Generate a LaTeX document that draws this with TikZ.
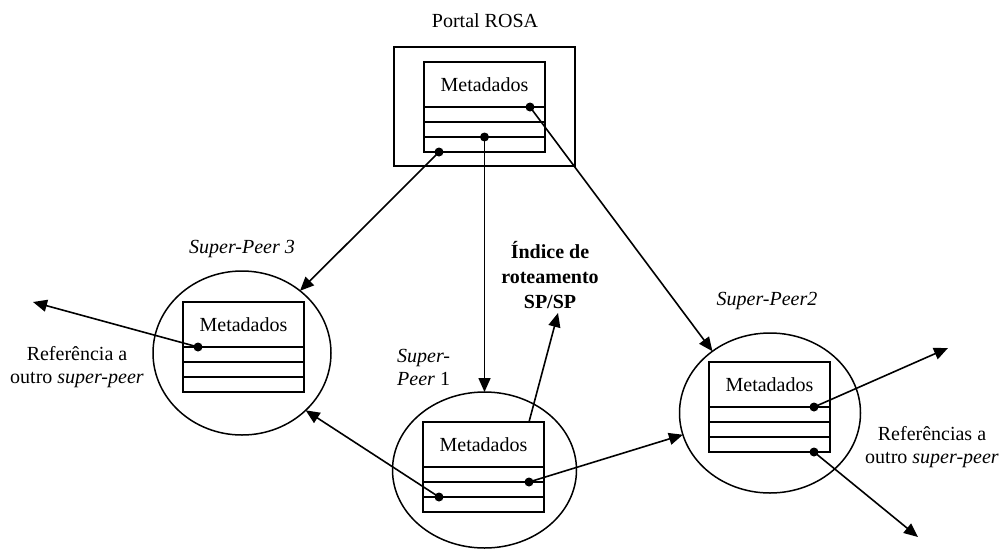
\documentclass[tikz,border=0pt]{standalone}
\usepackage{fontspec}
\setmainfont{Liberation Serif}
\usetikzlibrary{shapes.geometric,arrows.meta}
\begin{document}
\begin{tikzpicture}[x=1pt,y=-1pt,
  every node/.style={font=\fontsize{20}{23}\selectfont},
  arrowline/.style={line width=1.6pt,-{Triangle[length=14pt,width=12pt]}},
  peer/.style={ellipse,draw,line width=1.5pt,inner sep=0pt,outer sep=0pt},
  frame/.style={draw,line width=1.6pt,inner sep=0pt,outer sep=0pt},
  hdr/.style={draw,line width=1.6pt,minimum width=121pt,minimum height=45pt,inner sep=0pt,outer sep=0pt,anchor=north west},
  tabrow/.style={draw,line width=1.6pt,minimum width=121pt,minimum height=15pt,inner sep=0pt,outer sep=0pt,anchor=north},
  dot/.style={circle,fill,inner sep=0pt,minimum size=9pt},
  lbl/.style={inner sep=0pt}]
\useasboundingbox (0,0) rectangle (1005,550);

% Portal ROSA
\node[frame,minimum width=181pt,minimum height=119pt] (portal) at (484.5,106.5) {};
\node[lbl,anchor=base] (portaltxt) at (485,27) {Portal ROSA};
\node[hdr] (ph) at (424,62) {Metadados};
\node[tabrow] (pr1) at (ph.south) {};
\node[tabrow] (pr2) at (pr1.south) {};
\node[tabrow] (pr3) at (pr2.south) {};
\node[dot] (pd1) at ([xshift=-15pt]pr1.north east) {};
\node[dot] (pd2) at (pr3.north) {};
\node[dot] (pd3) at ([xshift=15pt]pr3.south west) {};

% Super-Peer 3
\node[peer,minimum width=178pt,minimum height=164pt] (sp3) at (242,353) {};
\node[lbl,anchor=base] (sp3txt) at (242,253) {\textit{Super-Peer 3}};
\node[hdr] (s3h) at (183,302) {Metadados};
\node[tabrow] (s3r1) at (s3h.south) {};
\node[tabrow] (s3r2) at (s3r1.south) {};
\node[tabrow] (s3r3) at (s3r2.south) {};
\node[dot] (s3d) at ([xshift=15pt]s3r1.north west) {};
\node[lbl,align=center] (ref3txt) at (77,367) {Referência a\\outro \textit{super-peer}};
\coordinate (ref3) at (33,302);

% Super-Peer 1
\node[peer,minimum width=184pt,minimum height=156pt] (sp1) at (484.5,470) {};
\node[lbl,align=left,anchor=west] (sp1txt) at (397,367) {\textit{Super-}\\\textit{Peer} 1};
\node[hdr] (s1h) at (423,422) {Metadados};
\node[tabrow] (s1r1) at (s1h.south) {};
\node[tabrow] (s1r2) at (s1r1.south) {};
\node[tabrow] (s1r3) at (s1r2.south) {};
\node[dot] (s1d1) at ([xshift=-15pt]s1r2.north east) {};
\node[dot] (s1d2) at ([xshift=16pt]s1r3.north west) {};
\coordinate (s1top) at ([xshift=-15pt]s1h.north east);
\node[lbl,align=center,font=\fontsize{20}{25}\selectfont\bfseries] (idxtxt) at (550,275) {Índice de\\roteamento\\SP/SP};
\coordinate (idxtip) at (558,313);

% Super-Peer 2
\node[peer,minimum width=181pt,minimum height=160pt] (sp2) at (770,413) {};
\node[lbl,anchor=base] (sp2txt) at (767,305) {\textit{Super-Peer2}};
\node[hdr] (s2h) at (709,362) {Metadados};
\node[tabrow] (s2r1) at (s2h.south) {};
\node[tabrow] (s2r2) at (s2r1.south) {};
\node[tabrow] (s2r3) at (s2r2.south) {};
\node[dot] (s2d1) at ([xshift=-16pt]s2r1.north east) {};
\node[dot] (s2d2) at ([xshift=-16pt]s2r3.south east) {};
\node[lbl,align=center] (ref2txt) at (932,447) {Referências a\\outro \textit{super-peer}};
\coordinate (ref2a) at (948,348);
\coordinate (ref2b) at (918,537);

% connectors
\draw[arrowline] (pd3.center) -- (sp3.47);
\draw[arrowline] (pd2.center) -- (sp1.90);
\draw[arrowline] (pd1.center) -- (sp2.133);
\draw[arrowline] (s1d2.center) -- (sp3.-42);
\draw[arrowline] (s1d1.center) -- (sp2.194);
\draw[arrowline] (s1top) -- (idxtip);
\draw[arrowline] (s3d.center) -- (ref3);
\draw[arrowline] (s2d1.center) -- (ref2a);
\draw[arrowline] (s2d2.center) -- (ref2b);
\end{tikzpicture}
\end{document}
